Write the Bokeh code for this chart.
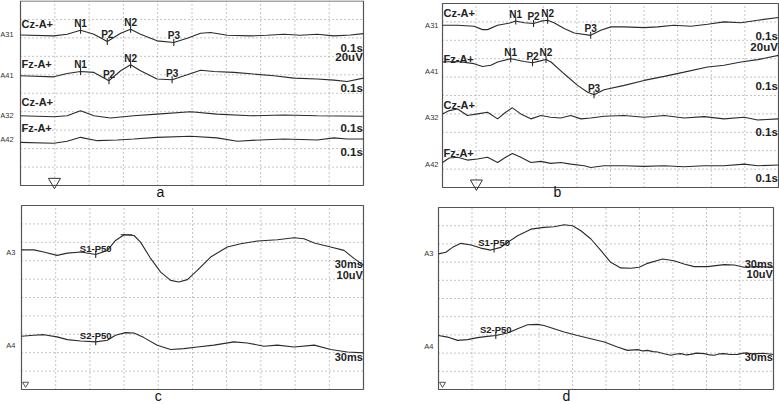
from bokeh.plotting import figure
from bokeh.layouts import column, row
from bokeh.models import Range1d
from bokeh.core.properties import value
from bokeh.embed import file_html
from bokeh.resources import INLINE

# ---------------- Panel a ----------------
A_A31_X = [0, 0.97, 1.36, 1.75, 2.14, 2.53, 2.92, 3.21, 3.50, 3.98, 4.47, 4.86, 5.25, 5.54, 6.03, 6.71, 7.19, 7.68, 8.16, 8.65, 9.14, 9.62, 10.0]
A_A31_Y = [8.16, 8.11, 8.20, 8.41, 8.20, 7.80, 8.25, 8.47, 8.20, 7.84, 7.75, 7.98, 8.25, 8.29, 8.14, 8.11, 8.14, 8.20, 8.14, 8.20, 8.11, 8.16, 8.23]
A_A41_X = [0, 0.97, 1.36, 1.75, 2.14, 2.58, 2.92, 3.21, 3.50, 3.98, 4.42, 4.86, 5.25, 5.64, 6.22, 6.80, 7.39, 7.97, 8.65, 9.14, 9.52, 10.0]
A_A41_Y = [5.95, 5.89, 6.07, 6.18, 6.13, 5.68, 6.22, 6.54, 6.22, 5.77, 5.73, 6.00, 6.25, 6.18, 6.13, 6.04, 5.95, 5.82, 5.77, 5.71, 5.64, 5.82]
A_A32_X = [0, 0.97, 1.36, 1.75, 2.14, 2.62, 3.30, 3.98, 4.96, 5.73, 6.71, 7.68, 8.65, 10.0]
A_A32_Y = [3.78, 3.73, 3.78, 4.05, 3.78, 3.66, 3.78, 3.87, 4.00, 3.87, 3.78, 3.82, 3.78, 3.75]
A_A42_X = [0, 0.97, 1.36, 1.75, 2.24, 2.82, 3.30, 3.98, 4.96, 5.73, 6.32, 6.99, 7.68, 8.65, 9.14, 9.52, 10.0]
A_A42_Y = [2.34, 2.29, 2.40, 2.61, 2.43, 2.47, 2.52, 2.61, 2.67, 2.58, 2.40, 2.47, 2.52, 2.47, 2.58, 2.52, 2.52]
A_MARK_X = [1.75, 2.53, 3.21, 4.47, 1.75, 2.58, 3.21, 4.42]
A_MARK_Y = [8.41, 7.80, 8.47, 7.75, 6.18, 5.68, 6.54, 5.73]
A_MARK_T = ["N1", "P2", "N2", "P3", "N1", "P2", "N2", "P3"]
A_CH_T = ["A31", "A41", "A32", "A42"]
A_CH_Y = [8.16, 5.95, 3.78, 2.52]
A_LEAD_T = ["Cz-A+", "Fz-A+", "Cz-A+", "Fz-A+"]
A_LEAD_Y = [8.78, 6.61, 4.50, 3.14]
A_SCALE_T = ["0.1s", "20uV", "0.1s", "0.1s", "0.1s"]
A_SCALE_Y = [7.43, 6.99, 5.31, 3.14, 1.79]

# ---------------- Panel b ----------------
B_A31_X = [0, 0.45, 0.94, 1.19, 1.34, 1.64, 2.03, 2.18, 2.43, 2.71, 2.93, 3.13, 3.32, 3.62, 3.92, 4.41, 4.71, 5.01, 5.41, 6.00, 6.40, 6.89, 7.39, 7.89, 8.38, 8.88, 9.38, 10.0]
B_A31_Y = [8.82, 8.82, 8.76, 8.58, 8.58, 8.82, 8.95, 9.05, 8.95, 8.91, 9.04, 9.09, 8.95, 8.64, 8.40, 8.27, 8.55, 8.73, 8.73, 8.69, 8.73, 8.82, 8.76, 8.87, 9.00, 8.95, 9.09, 9.24]
B_A41_X = [0, 0.45, 0.94, 1.19, 1.44, 1.64, 2.03, 2.43, 2.68, 2.88, 3.08, 3.23, 3.62, 4.02, 4.32, 4.51, 4.81, 5.41, 6.00, 6.60, 7.19, 7.89, 8.38, 8.88, 9.38, 10.0]
B_A41_Y = [6.82, 6.85, 6.73, 6.58, 6.64, 6.82, 7.00, 6.85, 6.78, 6.87, 6.96, 6.82, 6.18, 5.55, 5.18, 5.04, 5.31, 5.55, 5.82, 6.04, 6.27, 6.55, 6.64, 6.82, 6.95, 7.18]
B_A32_X = [0, 0.20, 0.45, 0.74, 1.04, 1.34, 1.64, 1.88, 2.08, 2.33, 2.63, 2.93, 3.22, 3.52, 3.82, 4.12, 4.41, 4.81, 5.41, 6.00, 6.60, 7.19, 7.79, 8.38, 8.98, 9.38, 10.0]
B_A32_Y = [4.00, 4.18, 4.27, 3.91, 4.00, 4.09, 3.73, 4.09, 4.33, 4.00, 3.73, 3.91, 3.82, 3.78, 3.91, 3.73, 3.78, 3.87, 3.91, 3.82, 3.91, 3.78, 3.85, 3.73, 3.82, 3.67, 3.73]
B_A42_X = [0, 0.20, 0.45, 0.74, 1.04, 1.34, 1.64, 1.88, 2.08, 2.33, 2.63, 2.93, 3.22, 3.52, 3.82, 4.22, 4.41, 4.81, 5.41, 6.00, 6.60, 7.19, 7.79, 8.38, 8.98, 9.38, 10.0]
B_A42_Y = [1.36, 1.60, 1.64, 1.49, 1.55, 1.64, 1.36, 1.64, 1.85, 1.64, 1.36, 1.42, 1.31, 1.36, 1.27, 1.18, 1.09, 1.18, 1.18, 1.15, 1.18, 1.13, 1.18, 1.18, 1.27, 1.18, 1.22]
B_MARK_X = [2.18, 2.71, 3.13, 4.41, 2.03, 2.68, 3.08, 4.51]
B_MARK_Y = [9.05, 8.91, 9.09, 8.27, 7.00, 6.78, 6.96, 5.04]
B_MARK_T = ["N1", "P2", "N2", "P3", "N1", "P2", "N2", "P3"]
B_CH_T = ["A31", "A41", "A32", "A42"]
B_CH_Y = [8.82, 6.31, 3.78, 1.24]
B_LEAD_T = ["Cz-A+", "Fz-A+", "Cz-A+", "Fz-A+"]
B_LEAD_Y = [9.46, 6.96, 4.46, 1.90]
B_SCALE_T = ["0.1s", "20uV", "0.1s", "0.1s", "0.1s"]
B_SCALE_Y = [8.21, 7.66, 5.54, 3.04, 0.54]

# ---------------- Panel c ----------------
C_A3_X = [0, 0.36, 0.65, 1.04, 1.34, 1.73, 2.17, 2.51, 2.75, 3.00, 3.29, 3.48, 3.78, 4.07, 4.36, 4.60, 4.85, 5.14, 5.53, 6.02, 6.41, 6.90, 7.48, 7.97, 8.26, 8.56, 9.04, 9.43, 9.73, 10.0]
C_A3_Y = [7.59, 7.59, 7.47, 7.29, 7.41, 7.47, 7.34, 7.56, 8.10, 8.41, 8.37, 8.01, 7.11, 6.38, 5.93, 5.84, 5.97, 6.47, 7.20, 7.74, 7.92, 8.07, 8.14, 8.25, 8.19, 7.96, 7.74, 7.56, 7.11, 6.75]
C_A4_X = [0, 0.36, 0.65, 1.04, 1.34, 1.73, 2.17, 2.51, 2.75, 3.04, 3.29, 3.58, 3.97, 4.36, 4.75, 5.14, 5.63, 6.21, 6.60, 7.09, 7.48, 7.97, 8.56, 9.04, 9.53, 10.0]
C_A4_Y = [2.89, 2.95, 2.98, 2.86, 2.71, 2.64, 2.59, 2.68, 2.95, 3.09, 3.07, 2.82, 2.41, 2.17, 2.22, 2.31, 2.41, 2.59, 2.53, 2.35, 2.41, 2.31, 2.41, 2.17, 2.04, 1.99]
C_MARK_X = [2.17, 2.17]
C_MARK_Y = [7.34, 2.59]
C_MARK_T = ["S1-P50", "S2-P50"]
C_PEAK_X = [3.07]
C_PEAK_Y = [8.41]
C_CH_T = ["A3", "A4"]
C_CH_Y = [7.47, 2.41]
C_SCALE_T = ["30ms", "10uV", "30ms"]
C_SCALE_Y = [6.80, 6.24, 1.74]

# ---------------- Panel d ----------------
D_A3_X = [0, 0.22, 0.42, 0.67, 0.97, 1.26, 1.56, 1.86, 2.06, 2.36, 2.76, 3.15, 3.45, 3.75, 4.00, 4.25, 4.55, 4.85, 5.14, 5.44, 5.74, 5.99, 6.24, 6.69, 7.03, 7.33, 7.63, 8.03, 8.53, 8.83, 9.12, 9.52, 10.0]
D_A3_Y = [7.45, 7.54, 7.81, 8.03, 7.94, 7.77, 7.66, 7.81, 8.08, 8.45, 8.81, 8.91, 8.94, 9.05, 9.00, 8.72, 8.27, 7.63, 6.99, 6.68, 6.66, 6.72, 6.93, 7.17, 7.07, 6.90, 6.75, 6.75, 6.86, 6.84, 6.72, 6.75, 6.72]
D_A4_X = [0, 0.27, 0.57, 0.87, 1.16, 1.46, 1.71, 2.06, 2.36, 2.66, 2.96, 3.15, 3.45, 3.75, 4.15, 4.55, 4.95, 5.34, 5.64, 5.94, 6.10, 6.24, 6.40, 6.54, 6.70, 6.94, 7.10, 7.23, 7.40, 7.53, 7.70, 7.93, 8.10, 8.23, 8.40, 8.53, 8.70, 8.93, 9.10, 9.22, 9.40, 9.52, 9.70, 10.0]
D_A4_Y = [2.97, 2.88, 2.70, 2.74, 2.85, 2.92, 2.97, 3.10, 3.34, 3.56, 3.58, 3.52, 3.34, 3.16, 2.97, 2.79, 2.61, 2.34, 2.15, 2.19, 2.12, 2.15, 2.08, 2.06, 1.98, 1.88, 1.95, 1.97, 1.90, 1.93, 2.00, 1.97, 1.90, 1.88, 1.96, 1.97, 1.92, 1.93, 2.00, 2.01, 1.95, 1.97, 1.99, 1.92]
D_MARK_X = [1.66, 1.71]
D_MARK_Y = [7.72, 2.97]
D_MARK_T = ["S1-P50", "S2-P50"]
D_CH_T = ["A3", "A4"]
D_CH_Y = [7.50, 2.34]
D_SCALE_T = ["30ms", "10uV", "30ms"]
D_SCALE_Y = [6.87, 6.37, 1.76]

PANEL_LETTERS = ["a", "b", "c", "d"]

FONT = value("Liberation Sans")
TRACE = "#2b2b2b"


def panel(width, height, L, R, T, B):
    ux = (R - L) / 10.0
    uy = (B - T) / 10.0
    p = figure(width=width, height=height, output_backend="svg", toolbar_location=None,
               x_range=Range1d(-L / ux, (width - L) / ux),
               y_range=Range1d(-(height - B) / uy, B / uy),
               min_border=0, min_border_left=0, min_border_right=0,
               min_border_top=0, min_border_bottom=0)
    p.axis.visible = False
    p.xgrid.visible = False
    p.ygrid.visible = False
    p.outline_line_color = None
    p.background_fill_color = "white"
    p.border_fill_color = "white"
    xs, ys = [], []
    for k in range(1, 10):
        xs.append([k, k]); ys.append([0, 10])
        xs.append([0, 10]); ys.append([k, k])
    p.multi_line(xs, ys, line_color="#8a8a8a", line_width=1, line_dash="1 3")
    p.quad(left=[0], right=[10], bottom=[0], top=[10], fill_color=None,
           line_color="#555555", line_width=1.2)
    return p, uy


def traces(p, pairs):
    for x, y in pairs:
        p.line(x, y, line_color=TRACE, line_width=1.1)


def marks(p, mx, my, mt, uy, label_dy=0.36, fs="10px"):
    h = 3.5 / uy
    p.segment(x0=mx, y0=[v - h for v in my], x1=mx, y1=[v + h for v in my],
              line_color=TRACE, line_width=1.1)
    p.text(x=mx, y=[v + label_dy for v in my], text=mt, text_font=FONT,
           text_font_style="bold", text_font_size=fs, text_align="center",
           text_baseline="middle", text_color="#222222")


def left_labels(p, xpos, texts, ys):
    p.text(x=[xpos] * len(texts), y=ys, text=texts, text_font=FONT,
           text_font_size="7.5px", text_align="right", text_baseline="middle",
           text_color="#333333")


def lead_labels(p, texts, ys):
    p.text(x=[0.03] * len(texts), y=ys, text=texts, text_font=FONT,
           text_font_style="bold", text_font_size="11px", text_align="left",
           text_baseline="middle", text_color="#222222")


def scale_labels(p, texts, ys, fs="11.5px"):
    p.text(x=[9.98] * len(texts), y=ys, text=texts, text_font=FONT,
           text_font_style="bold", text_font_size=fs, text_align="right",
           text_baseline="middle", text_color="#222222")


def letter(p, x, y, t):
    p.text(x=[x], y=[y], text=[t], text_font=FONT, text_font_size="14px",
           text_align="center", text_baseline="middle", text_color="#111111")


# Panel a
pa, uya = panel(390, 200, 20, 363, 0.5, 185)
traces(pa, [(A_A31_X, A_A31_Y), (A_A41_X, A_A41_Y), (A_A32_X, A_A32_Y), (A_A42_X, A_A42_Y)])
marks(pa, A_MARK_X, A_MARK_Y, A_MARK_T, uya)
left_labels(pa, -0.2, A_CH_T, A_CH_Y)
lead_labels(pa, A_LEAD_T, A_LEAD_Y)
scale_labels(pa, A_SCALE_T, A_SCALE_Y)
pa.scatter([0.99], [0.2], marker="inverted_triangle", size=12, fill_color=None,
           line_color="#333333", line_width=1)
letter(pa, 4.08, -0.33, PANEL_LETTERS[0])

# Panel b
pb, uyb = panel(389, 200, 52, 388, 3, 187)
traces(pb, [(B_A31_X, B_A31_Y), (B_A41_X, B_A41_Y), (B_A32_X, B_A32_Y), (B_A42_X, B_A42_Y)])
marks(pb, B_MARK_X, B_MARK_Y, B_MARK_T, uyb)
left_labels(pb, -0.12, B_CH_T, B_CH_Y)
lead_labels(pb, B_LEAD_T, B_LEAD_Y)
scale_labels(pb, B_SCALE_T, B_SCALE_Y)
pb.scatter([1.01], [0.22], marker="inverted_triangle", size=12, fill_color=None,
           line_color="#333333", line_width=1)
letter(pb, 3.42, -0.25, PANEL_LETTERS[1])

# Panel c
pc, uyc = panel(390, 204, 21, 363, 5, 189)
traces(pc, [(C_A3_X, C_A3_Y), (C_A4_X, C_A4_Y)])
marks(pc, C_MARK_X, C_MARK_Y, C_MARK_T, uyc, label_dy=0.34, fs="9.5px")
pc.segment(x0=[v - 0.17 for v in C_PEAK_X], y0=C_PEAK_Y, x1=[v + 0.17 for v in C_PEAK_X],
           y1=C_PEAK_Y, line_color=TRACE, line_width=1.1)
left_labels(pc, -0.18, C_CH_T, C_CH_Y)
scale_labels(pc, C_SCALE_T, C_SCALE_Y, fs="11px")
pc.scatter([0.12], [0.3], marker="inverted_triangle", size=6, fill_color=None,
           line_color="#555555", line_width=1)
letter(pc, 4.0, -0.38, PANEL_LETTERS[2])

# Panel d
pd, uyd = panel(389, 204, 48, 383, 7, 189)
traces(pd, [(D_A3_X, D_A3_Y), (D_A4_X, D_A4_Y)])
marks(pd, D_MARK_X, D_MARK_Y, D_MARK_T, uyd, label_dy=0.34, fs="9.5px")
left_labels(pd, -0.15, D_CH_T, D_CH_Y)
scale_labels(pd, D_SCALE_T, D_SCALE_Y, fs="11px")
pd.scatter([0.12], [0.3], marker="inverted_triangle", size=6, fill_color=None,
           line_color="#555555", line_width=1)
letter(pd, 3.82, -0.38, PANEL_LETTERS[3])

layout = column(row(pa, pb), row(pc, pd))
open("out.html", "w").write(file_html(layout, INLINE))
